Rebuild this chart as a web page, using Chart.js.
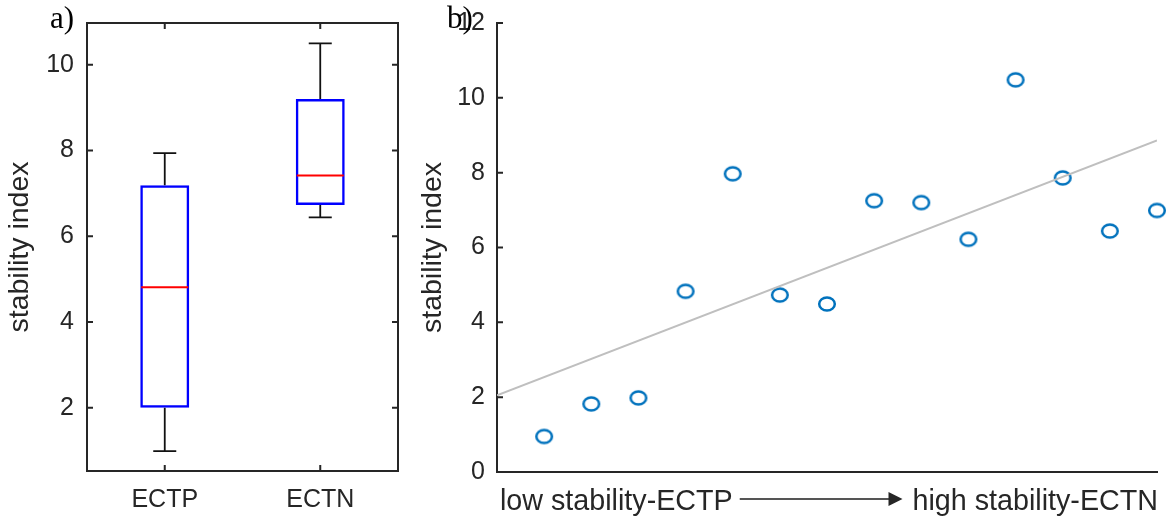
<!DOCTYPE html>
<html>
<head>
<meta charset="utf-8">
<script src="https://cdn.jsdelivr.net/npm/chart.js@4"></script>
<style>
  html, body { margin: 0; padding: 0; background: #fff; }
  #wrap { position: relative; width: 1166px; height: 519px; }
  #boxWrap { position: absolute; left: 0; top: 0; width: 420px; height: 519px; }
  #scatterWrap { position: absolute; left: 410px; top: 0; width: 756px; height: 519px; }
</style>
</head>
<body>
<div id="wrap">
  <div id="boxWrap"><canvas id="boxChart"></canvas></div>
  <div id="scatterWrap"><canvas id="scatterChart"></canvas></div>
</div>
<script>
// panel a) box plot
const groups = ['ECTP', 'ECTN'];
const whiskerLow = [0.99, 6.44];
const q1 = [2.0, 6.73];
const median = [4.81, 7.42];
const q3 = [7.19, 9.2];
const whiskerHigh = [7.94, 10.5];
const yTicksA = [2, 4, 6, 8, 10];

// panel b) stability index per sample, ordered low -> high stability
const sampleNo = [1, 2, 3, 4, 5, 6, 7, 8, 9, 10, 11, 12, 13, 14];
const stability = [0.95, 1.82, 1.98, 4.83, 7.97, 4.73, 4.49, 7.25, 7.2, 6.22, 10.48, 7.86, 6.44, 6.99];
const trendX = [0, 14];
const trendY = [2.05, 8.86];
const yTicksB = [0, 2, 4, 6, 8, 10, 12];

const yLabel = 'stability index';
const xLabelLow = 'low stability-ECTP';
const xLabelHigh = 'high stability-ECTN';

const ink = '#262626';
const sans = '"Liberation Sans", Arial, Helvetica, sans-serif';
const serif = '"Liberation Serif", "Times New Roman", serif';

Chart.defaults.font.family = sans;
Chart.defaults.color = ink;

function panelLabel(text, dx) {
    return {
        id: 'panelLabel',
        afterDraw(chart) {
            const { ctx, chartArea } = chart;
            ctx.save();
            ctx.font = '31px ' + serif;
            ctx.fillStyle = '#000';
            ctx.textBaseline = 'alphabetic';
            ctx.fillText(text, chartArea.left - dx, 28);
            ctx.restore();
        }
    };
}

// y axis box: fixed width, and no extra label padding pushing the plot down
function fixYAxis(s) {
    s.width = 87;
    s.paddingTop = 0;
    s.paddingBottom = 0;
}

// whiskers, medians, frame and inward ticks for the box plot
const boxExtras = {
    id: 'boxExtras',
    afterDatasetsDraw(chart) {
        const { ctx, chartArea: a, scales: { x, y } } = chart;
        const bars = chart.getDatasetMeta(0).data;
        ctx.save();
        groups.forEach((g, i) => {
            const cx = x.getPixelForValue(i);
            const half = bars[i].width / 2;
            const cap = half * 0.47;
            ctx.strokeStyle = '#111';
            ctx.lineWidth = 1.8;
            ctx.beginPath();
            ctx.moveTo(cx, y.getPixelForValue(q3[i]));
            ctx.lineTo(cx, y.getPixelForValue(whiskerHigh[i]));
            ctx.moveTo(cx, y.getPixelForValue(q1[i]));
            ctx.lineTo(cx, y.getPixelForValue(whiskerLow[i]));
            ctx.moveTo(cx - cap, y.getPixelForValue(whiskerHigh[i]));
            ctx.lineTo(cx + cap, y.getPixelForValue(whiskerHigh[i]));
            ctx.moveTo(cx - cap, y.getPixelForValue(whiskerLow[i]));
            ctx.lineTo(cx + cap, y.getPixelForValue(whiskerLow[i]));
            ctx.stroke();

            ctx.strokeStyle = '#ff0000';
            ctx.lineWidth = 2;
            ctx.beginPath();
            ctx.moveTo(cx - half + 1, y.getPixelForValue(median[i]));
            ctx.lineTo(cx + half - 1, y.getPixelForValue(median[i]));
            ctx.stroke();
        });

        ctx.strokeStyle = ink;
        ctx.lineWidth = 2;
        ctx.strokeRect(a.left, a.top, a.right - a.left, a.bottom - a.top);
        ctx.beginPath();
        y.ticks.forEach(t => {
            const py = y.getPixelForValue(t.value);
            ctx.moveTo(a.left, py); ctx.lineTo(a.left + 6, py);
            ctx.moveTo(a.right, py); ctx.lineTo(a.right - 6, py);
        });
        groups.forEach((g, i) => {
            const px = x.getPixelForValue(i);
            ctx.moveTo(px, a.bottom); ctx.lineTo(px, a.bottom - 6);
            ctx.moveTo(px, a.top); ctx.lineTo(px, a.top + 6);
        });
        ctx.stroke();
        ctx.restore();
    }
};

new Chart(document.getElementById('boxChart'), {
    type: 'bar',
    data: {
        labels: groups,
        datasets: [{
            data: groups.map((g, i) => [q1[i], q3[i]]),
            backgroundColor: 'rgba(0,0,0,0)',
            borderColor: '#0000ff',
            borderWidth: 2.5,
            borderSkipped: false,
            barPercentage: 0.315,
            categoryPercentage: 1
        }]
    },
    options: {
        responsive: true,
        maintainAspectRatio: false,
        animation: false,
        layout: { padding: { top: 23, right: 22, bottom: 0, left: 0 } },
        plugins: { legend: { display: false }, tooltip: { enabled: false } },
        scales: {
            x: {
                grid: { display: false, drawTicks: false },
                border: { display: false },
                ticks: { color: ink, font: { size: 25 }, padding: 14 },
                afterFit: s => { s.height = 48; }
            },
            y: {
                min: 0.525,
                max: 10.975,
                grid: { display: false, drawTicks: false },
                border: { display: false },
                afterBuildTicks: s => { s.ticks = yTicksA.map(v => ({ value: v })); },
                ticks: { color: ink, font: { size: 25 }, padding: 13 },
                title: { display: true, text: yLabel, color: ink, font: { size: 28.5 }, padding: { top: 3, bottom: 0 } },
                afterFit: fixYAxis
            }
        }
    },
    plugins: [boxExtras, panelLabel('a)', 37)]
});

// inward y ticks and the arrowed x label of panel b
const scatterExtras = {
    id: 'scatterExtras',
    afterDraw(chart) {
        const { ctx, chartArea: a, scales: { y } } = chart;
        ctx.save();
        ctx.strokeStyle = ink;
        ctx.lineWidth = 2;
        ctx.beginPath();
        y.ticks.forEach(t => {
            const py = y.getPixelForValue(t.value);
            ctx.moveTo(a.left, py); ctx.lineTo(a.left + 6, py);
        });
        ctx.stroke();

        ctx.font = '28.7px ' + sans;
        ctx.fillStyle = ink;
        ctx.textBaseline = 'alphabetic';
        const base = a.bottom + 38;
        ctx.textAlign = 'left';
        ctx.fillText(xLabelLow, a.left + 3, base);
        const w1 = ctx.measureText(xLabelLow).width;
        ctx.textAlign = 'right';
        ctx.fillText(xLabelHigh, a.right + 1, base);
        const w2 = ctx.measureText(xLabelHigh).width;

        const x0 = a.left + 3 + w1 + 7;
        const x1 = a.right + 1 - w2 - 10;
        const ay = a.bottom + 27;
        ctx.strokeStyle = '#555';
        ctx.lineWidth = 2;
        ctx.beginPath();
        ctx.moveTo(x0, ay); ctx.lineTo(x1 - 10, ay);
        ctx.stroke();
        ctx.fillStyle = ink;
        ctx.beginPath();
        ctx.moveTo(x1, ay); ctx.lineTo(x1 - 14, ay - 7); ctx.lineTo(x1 - 14, ay + 7);
        ctx.closePath();
        ctx.fill();
        ctx.restore();
    }
};

function ringMarker(color) {
    const c = document.createElement('canvas');
    c.width = 22; c.height = 20;
    const g = c.getContext('2d');
    g.strokeStyle = color;
    g.lineWidth = 2.5;
    g.beginPath();
    g.ellipse(11, 10, 7.8, 6.6, 0, 0, Math.PI * 2);
    g.stroke();
    return c;
}

new Chart(document.getElementById('scatterChart'), {
    type: 'scatter',
    data: {
        datasets: [{
            type: 'line',
            data: trendX.map((v, i) => ({ x: v, y: trendY[i] })),
            borderColor: '#bfbfbf',
            borderWidth: 2,
            pointRadius: 0,
            fill: false
        }, {
            data: sampleNo.map((v, i) => ({ x: v, y: stability[i] })),
            pointStyle: ringMarker('#0072bd'),
            pointRadius: 8,
            clip: false
        }]
    },
    options: {
        responsive: true,
        maintainAspectRatio: false,
        animation: false,
        layout: { padding: { top: 23, right: 7, bottom: 0, left: 0 } },
        plugins: { legend: { display: false }, tooltip: { enabled: false } },
        scales: {
            x: {
                type: 'linear',
                min: 0,
                max: 14,
                grid: { display: false, drawTicks: false },
                border: { display: true, color: ink, width: 2 },
                ticks: { display: false },
                afterFit: s => { s.height = 47; }
            },
            y: {
                min: 0,
                max: 12,
                grid: { display: false, drawTicks: false },
                border: { display: true, color: ink, width: 2 },
                afterBuildTicks: s => { s.ticks = yTicksB.map(v => ({ value: v })); },
                ticks: { color: ink, font: { size: 25 }, padding: 12 },
                title: { display: true, text: yLabel, color: ink, font: { size: 28.5 }, padding: { top: 6, bottom: 0 } },
                afterFit: fixYAxis
            }
        }
    },
    plugins: [scatterExtras, panelLabel('b)', 50)]
});
</script>
</body>
</html>
